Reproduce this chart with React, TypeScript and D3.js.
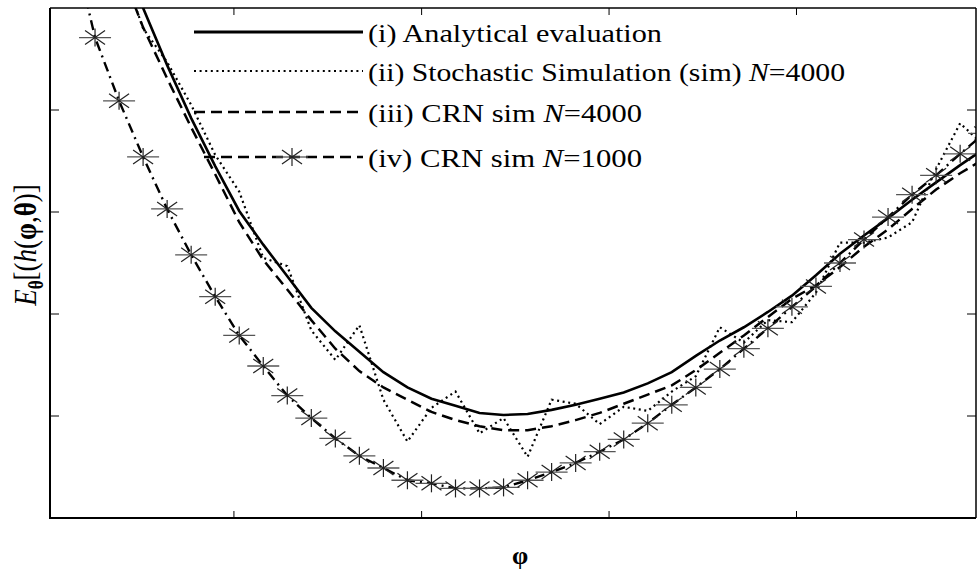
import React from 'react';
import * as d3 from 'd3';

// grid index of phi samples (no tick labels in the original)
const phi = [0,1,2,3,4,5,6,7,8,9,10,11,12,13,14,15,16,17,18,19,20,21,22,23,24,25,26,27,28,29,30,31,32,33,34,35,36,37,38];
const xTicks = [6.78, 14.59, 22.39, 30.19];
const yTicks = [1, 2, 3, 4];

const analytical = [7.04,6.30,5.62,5.00,4.44,3.92,3.45,3.01,2.68,2.37,2.06,1.83,1.63,1.43,1.28,1.17,1.10,1.03,1.01,1.02,1.06,1.11,1.17,1.23,1.32,1.43,1.59,1.74,1.87,2.02,2.18,2.38,2.59,2.77,2.94,3.12,3.29,3.46,3.62];
const stochastic = [6.84,6.16,5.47,4.80,4.47,4.05,3.56,3.20,2.55,2.47,1.84,1.55,1.89,1.16,0.75,1.08,1.24,0.83,0.98,0.60,1.16,1.12,0.92,1.09,1.05,1.24,1.39,1.87,1.72,1.94,1.92,2.21,2.70,2.70,2.75,2.90,3.42,3.87,3.65];
const crn4000 = [6.75,6.06,5.42,4.81,4.31,3.83,3.37,2.90,2.53,2.24,1.94,1.66,1.44,1.28,1.16,1.04,0.96,0.90,0.86,0.86,0.90,0.96,1.03,1.12,1.21,1.30,1.45,1.62,1.79,1.97,2.15,2.28,2.46,2.66,2.83,3.03,3.22,3.38,3.52];
const crn1000 = [5.72,4.71,4.09,3.54,3.03,2.58,2.17,1.79,1.49,1.20,0.98,0.78,0.61,0.49,0.37,0.34,0.29,0.29,0.30,0.37,0.45,0.54,0.65,0.77,0.93,1.11,1.28,1.46,1.66,1.86,2.07,2.27,2.50,2.73,2.95,3.17,3.36,3.57,3.77];

const W = 977, H = 573;
const L = 50, R = 976, T = 8, B = 518;
const FONT = '"Liberation Serif", "Times New Roman", serif';

function Star({ cx, cy }: { cx: number; cy: number }) {
  return (
    <g transform={`translate(${cx},${cy})`} fill="none">
      <line x1={-16} x2={16} y1={0} y2={0} stroke="#555" strokeWidth={1.3} />
      <line x1={0} x2={0} y1={-9} y2={9} stroke="#222" strokeWidth={1.2} />
      <line x1={-10} y1={-7} x2={10} y2={7} stroke="#222" strokeWidth={1.2} />
      <line x1={-10} y1={7} x2={10} y2={-7} stroke="#222" strokeWidth={1.2} />
    </g>
  );
}

export default function App() {
  const x = d3.scaleLinear().domain([-0.874, 37.66]).range([L, R]);
  const y = d3.scaleLinear().domain([0, 5]).range([B, T]);
  const mk = (vals: number[]) =>
    d3.line<number>().x((_, i) => x(phi[i])).y((d) => y(d))(vals) || '';

  const legendRows = [32, 71, 112, 157];
  const lx1 = 194, lx2 = 363, tx = 368;

  return (
    <svg width={W} height={H} style={{ position: 'absolute', left: 0, top: 0, background: '#fff' }} fontFamily={FONT}>
      <defs>
        <clipPath id="plotclip">
          <rect x={L} y={T} width={R - L} height={B - T} />
        </clipPath>
      </defs>
      <rect x={0} y={0} width={W} height={H} fill="#fff" />
      <g clipPath="url(#plotclip)">
        <path d={mk(analytical)} fill="none" stroke="#000" strokeWidth={2.6} />
        <path d={mk(stochastic)} fill="none" stroke="#000" strokeWidth={2.2} strokeDasharray="2 3.6" />
        <path d={mk(crn4000)} fill="none" stroke="#000" strokeWidth={2.5} strokeDasharray="11 6" />
        <path d={mk(crn1000)} fill="none" stroke="#000" strokeWidth={2.4} strokeDasharray="10 5 2 5" />
        {crn1000.map((v, i) => (
          <Star key={i} cx={x(phi[i])} cy={y(v)} />
        ))}
      </g>

      {/* axes box */}
      <line x1={L} x2={R} y1={T} y2={T} stroke="#000" strokeWidth={1.5} />
      <line x1={R} x2={R} y1={T} y2={B} stroke="#000" strokeWidth={1.5} />
      <line x1={L} x2={L} y1={T} y2={B + 1} stroke="#000" strokeWidth={2} />
      <line x1={L} x2={R} y1={B} y2={B} stroke="#000" strokeWidth={2} />
      {xTicks.map((t) => (
        <g key={'x' + t}>
          <line x1={x(t)} x2={x(t)} y1={B} y2={B - 7} stroke="#000" strokeWidth={1} />
          <line x1={x(t)} x2={x(t)} y1={T} y2={T + 7} stroke="#000" strokeWidth={1} />
        </g>
      ))}
      {yTicks.map((t) => (
        <g key={'y' + t}>
          <line x1={L} x2={L + 9} y1={y(t)} y2={y(t)} stroke="#000" strokeWidth={1} />
          <line x1={R} x2={R - 9} y1={y(t)} y2={y(t)} stroke="#000" strokeWidth={1} />
        </g>
      ))}

      {/* legend */}
      <line x1={lx1} x2={lx2} y1={legendRows[0]} y2={legendRows[0]} stroke="#000" strokeWidth={3} />
      <line x1={lx1} x2={lx2} y1={legendRows[1]} y2={legendRows[1]} stroke="#000" strokeWidth={2.2} strokeDasharray="2 3.6" />
      <line x1={lx1} x2={lx2} y1={legendRows[2]} y2={legendRows[2]} stroke="#000" strokeWidth={2.5} strokeDasharray="11 6" />
      <line x1={lx1 + 10} x2={lx2} y1={legendRows[3]} y2={legendRows[3]} stroke="#000" strokeWidth={2.5} strokeDasharray="11 6" />
      <Star cx={292} cy={legendRows[3]} />

      <g fontSize={26} fill="#000">
        <text x={tx} y={legendRows[0] + 10} textLength={294} lengthAdjust="spacingAndGlyphs">(i) Analytical evaluation</text>
        <text x={tx} y={legendRows[1] + 10} textLength={477} lengthAdjust="spacingAndGlyphs">
          (ii) Stochastic Simulation (sim) <tspan fontStyle="italic">N</tspan>=4000
        </text>
        <text x={tx} y={legendRows[2] + 10} textLength={274} lengthAdjust="spacingAndGlyphs">
          (iii) CRN sim <tspan fontStyle="italic">N</tspan>=4000
        </text>
        <text x={tx} y={legendRows[3] + 10} textLength={274} lengthAdjust="spacingAndGlyphs">
          (iv) CRN sim <tspan fontStyle="italic">N</tspan>=1000
        </text>
      </g>

      {/* axis labels */}
      <text x={520} y={564} fontSize={26} fontWeight="bold" textAnchor="middle">φ</text>
      <text transform="translate(36,245) scale(1.2,1) rotate(-90)" fontSize={27} textAnchor="middle">
        <tspan fontStyle="italic">E</tspan>
        <tspan fontWeight="bold" fontSize={17} dy={6}>θ</tspan>
        <tspan dy={-6}>[(</tspan>
        <tspan fontStyle="italic">h</tspan>
        <tspan>(</tspan>
        <tspan fontWeight="bold">φ</tspan>
        <tspan>,</tspan>
        <tspan fontWeight="bold">θ</tspan>
        <tspan>)]</tspan>
      </text>
    </svg>
  );
}
